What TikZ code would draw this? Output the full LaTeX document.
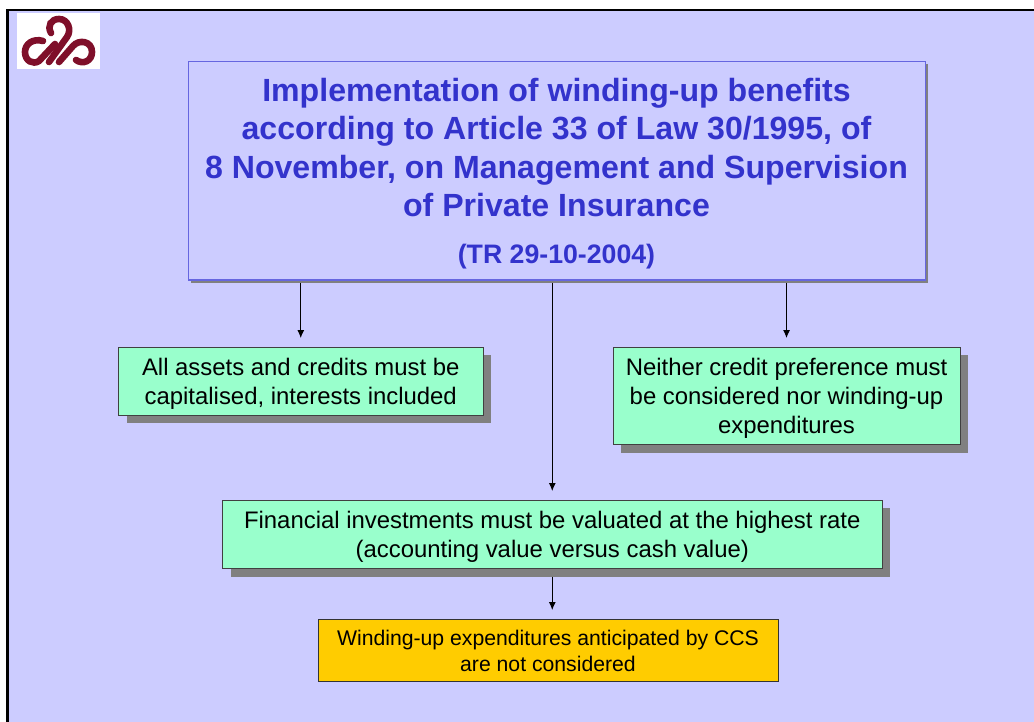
\documentclass[tikz,border=0pt]{standalone}
\usepackage{fontspec}
\setmainfont{Liberation Sans}
\usetikzlibrary{arrows.meta}
\definecolor{bgblue}{HTML}{CCCCFF}
\definecolor{titleblue}{HTML}{3333CC}
\definecolor{edgeblue}{HTML}{6666E0}
\definecolor{mint}{HTML}{99FFCC}
\definecolor{amber}{HTML}{FFCC00}
\definecolor{shade}{HTML}{808080}
\definecolor{logored}{HTML}{7F0F2A}
\newcommand{\nudgedown}{\rule{0pt}{22pt}}
\tikzset{
  x=1pt,y=-1pt,
  boxbase/.style={rectangle,inner sep=0pt,outer sep=0pt,align=center,anchor=north west},
  titlebox/.style={boxbase,fill=bgblue,draw=edgeblue,line width=1.3pt},
  titlelines/.style={text=titleblue,align=center,font=\fontsize{32.1}{38.5}\selectfont\bfseries},
  titledateline/.style={text=titleblue,font=\fontsize{26.7}{31}\selectfont\bfseries},
  greenbox/.style={boxbase,fill=mint,draw=black!75,line width=.8pt,font=\fontsize{23.9}{29}\selectfont},
  amberbox/.style={boxbase,fill=amber,draw=black!80,line width=.8pt,font=\fontsize{21.2}{26}\selectfont},
  shadowbox/.style={fill=shade},
  arrowline/.style={draw=black,line width=.9pt,-{Latex[length=8pt,width=7pt]}},
  logostroke/.style={draw=logored,line width=6.6pt,line cap=round}
}
\begin{document}
\begin{tikzpicture}
\useasboundingbox (0,0) rectangle (1034,722);
\fill[white] (0,0) rectangle (1034,722);
\fill[bgblue] (7.5,10.5) rectangle (1034,722);
\fill[black] (6,9) rectangle (1034,11.5);
\fill[black] (6,9) rectangle (9,722);
% logo
\fill[white] (17,13) rectangle (100,69);
\draw[logostroke] (43,41) .. controls (33,38) and (25,44) .. (25,52) .. controls (25,61) and (33,65) .. (39,61) -- (55,44);
\draw[logostroke] (51,33) .. controls (47,26) and (51,19) .. (59,19) .. controls (68,19) and (72,30) .. (67,37) -- (49,62);
\draw[logostroke] (59,62) -- (73,46) .. controls (79,39) and (92,41) .. (92,52) .. controls (92,61) and (83,65) .. (76,60);
% shadows
\fill[shadowbox] (191,64.5) rectangle (928,283);
\fill[shadowbox] (126.5,354.5) rectangle (491,423);
\fill[shadowbox] (621,354.5) rectangle (968,452.5);
\fill[shadowbox] (230.5,508) rectangle (890,576.5);
% boxes
\node[titlebox,minimum width=737pt,minimum height=218.5pt] (main) at (188.5,61.5) {};
\node[greenbox,minimum width=364.5pt,minimum height=68pt] (left) at (118.5,347) {\nudgedown All assets and credits must be\\capitalised, interests included};
\node[greenbox,minimum width=347pt,minimum height=97.5pt] (right) at (613,347) {\nudgedown Neither credit preference must\\be considered nor winding-up\\expenditures};
\node[greenbox,minimum width=659.5pt,minimum height=68pt] (mid) at (222.5,500) {\nudgedown Financial investments must be valuated at the highest rate\\(accounting value versus cash value)};
\node[amberbox,minimum width=460pt,minimum height=62pt] (final) at (318,619) {\rule{0pt}{16.5pt}Winding-up expenditures anticipated by CCS\\are not considered};
% title text
\node[titlelines] (titletext) at (556.5,147.5) {Implementation of winding-up benefits\\according to Article 33 of Law 30/1995, of\\8 November, on Management and Supervision\\of Private Insurance};
\node[titledateline] (titledate) at (556.5,257) {(TR 29-10-2004)};
% connectors
\draw[arrowline,shorten <=3pt,shorten >=9pt] (left.north |- main.south) -- (left.north);
\draw[arrowline,shorten <=3pt,shorten >=9pt] (right.north |- main.south) -- (right.north);
\draw[arrowline,shorten <=3pt,shorten >=9pt] (mid.north |- main.south) -- (mid.north);
\draw[arrowline,shorten <=8.5pt,shorten >=9pt] (mid.south) -- (mid.south |- final.north);
\end{tikzpicture}
\end{document}
